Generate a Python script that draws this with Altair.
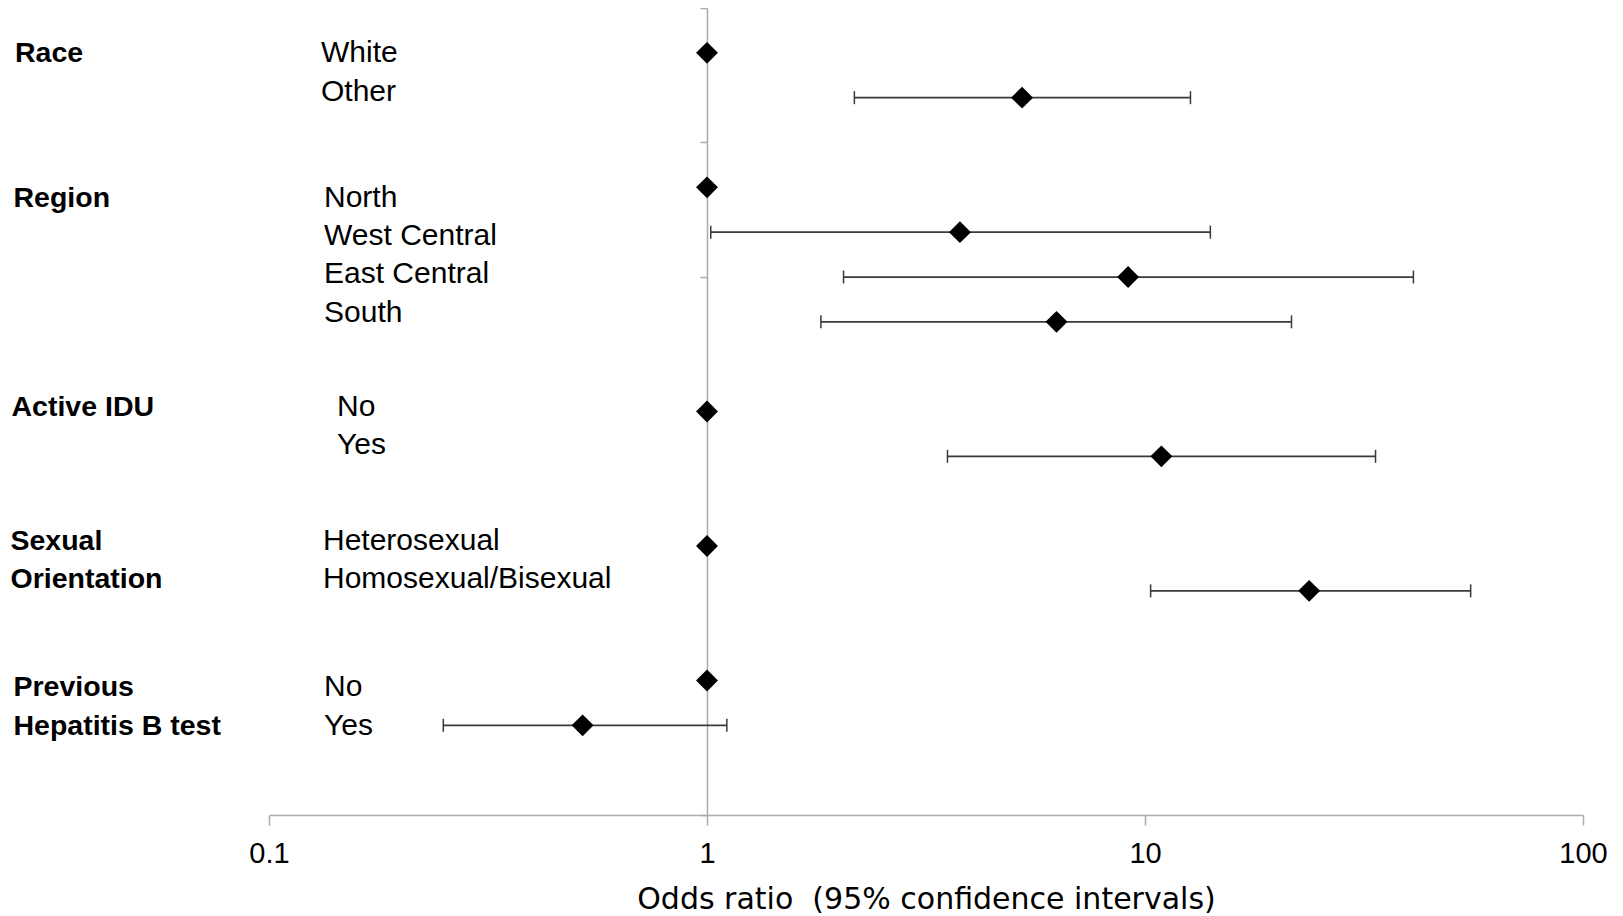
import math
import altair as alt
import pandas as pd

# ---------------- data ----------------
group_lines = [["Race"], ["Region"], ["Active IDU"], ["Sexual", "Orientation"],
               ["Previous", "Hepatitis B test"]]
levels = [["White", "Other"],
          ["North", "West Central", "East Central", "South"],
          ["No", "Yes"],
          ["Heterosexual", "Homosexual/Bisexual"],
          ["No", "Yes"]]
odds = [[1, 5.24], [1, 3.78, 9.15, 6.28], [1, 10.9], [1, 23.7], [1, 0.52]]
ci_low = [[None, 2.17], [None, 1.02, 2.05, 1.82], [None, 3.54], [None, 10.3], [None, 0.25]]
ci_high = [[None, 12.7], [None, 14.1, 41.0, 21.6], [None, 33.6], [None, 55.4], [None, 1.11]]
x_ticks = [0.1, 1, 10, 100]
y_ticks = [0, 3, 6, 9, 12, 15, 18]
x_title = "Odds ratio \u00a0(95% confidence intervals)"

# ---------------- layout / style ----------------
PLOT_W, PLOT_H = 1314, 807
PAD_L, PAD_T, PAD_R, PAD_B = 261, 0, 26, 99
X_MIN, X_MAX = 0.1, 100
Y_MAX = 18
UNIT = PLOT_H / Y_MAX
LINE_PX = 38.4
baseline_nudge = [9.6, 19.2, 4.5, 3.5, 15.6]     # text-box offsets (px)
group_x_page = [15, 13.5, 11.5, 10.5, 13.5]
level_x_page = [321, 324, 337, 323, 324]
PLOT_LEFT_PAGE = 8 + PAD_L
GREY = "#ababab"
BAR = "#3a3a3a"
FONT = "Liberation Sans"

# ---------------- tables ----------------
rows = []
k = 0
for g, lv in enumerate(levels):
    for j, name in enumerate(lv):
        rows.append(dict(group=g, level=name, pos=17 - (k + g),
                         odds=odds[g][j], lo=ci_low[g][j], hi=ci_high[g][j]))
        k += 1
df = pd.DataFrame(rows)

lab = []
for g in range(len(levels)):
    first = df[df.group == g].pos.max()
    for i, t in enumerate(group_lines[g]):
        lab.append(dict(group=g, kind="group", text=t,
                        ly=first - (baseline_nudge[g] + i * LINE_PX) / UNIT))
    for i, t in enumerate(levels[g]):
        lab.append(dict(group=g, kind="level", text=t,
                        ly=first - (baseline_nudge[g] + i * LINE_PX) / UNIT))
labels = pd.DataFrame(lab)

x_one_px = PLOT_W * (math.log10(1) - math.log10(X_MIN)) / (math.log10(X_MAX) - math.log10(X_MIN))

xscale = alt.Scale(type="log", domain=[X_MIN, X_MAX], nice=False)
yscale = alt.Scale(domain=[0, Y_MAX], nice=False, zero=False)

xaxis = alt.Axis(values=x_ticks, format="~g", title=x_title, grid=False,
                 domainColor=GREY, domainWidth=1.5, tickColor=GREY, tickWidth=1.5,
                 tickSize=10, labelFont=FONT, labelFontSize=29, labelColor="black",
                 labelPadding=14, labelFlush=False,
                 titleFont="DejaVu Sans", titleFontSize=30, titleFontWeight="normal",
                 titleColor="black", titleBaseline="alphabetic", titleY=93)
yaxis = alt.Axis(orient="left", offset=-x_one_px, values=y_ticks, labels=False,
                 title=None, grid=False, domainColor=GREY, domainWidth=1.5,
                 tickColor=GREY, tickWidth=1.5, tickSize=7)

base = alt.Chart(df)

bars = base.transform_filter("datum.lo != null").mark_rule(
    color=BAR, strokeWidth=1.75).encode(
    x=alt.X("lo:Q", scale=xscale, axis=xaxis),
    x2="hi:Q",
    y=alt.Y("pos:Q", scale=yscale, axis=yaxis))

cap_lo = base.transform_filter("datum.lo != null").mark_point(
    shape="M0,-1L0,1", filled=False, size=169, color=BAR, strokeWidth=1.5, opacity=1).encode(
    x=alt.X("lo:Q", scale=xscale, axis=xaxis),
    y=alt.Y("pos:Q", scale=yscale, axis=yaxis))

cap_hi = base.transform_filter("datum.lo != null").mark_point(
    shape="M0,-1L0,1", filled=False, size=169, color=BAR, strokeWidth=1.5, opacity=1).encode(
    x=alt.X("hi:Q", scale=xscale, axis=xaxis),
    y=alt.Y("pos:Q", scale=yscale, axis=yaxis))

diamonds = base.mark_point(shape="diamond", filled=True, size=480, color="black",
                           opacity=1).encode(
    x=alt.X("odds:Q", scale=xscale, axis=xaxis),
    y=alt.Y("pos:Q", scale=yscale, axis=yaxis))

layers = [bars, cap_lo, cap_hi, diamonds]
for g in range(len(levels)):
    layers.append(
        alt.Chart(labels).transform_filter(
            f"datum.group == {g} && datum.kind == 'group'").mark_text(
            align="left", baseline="alphabetic", font=FONT, fontSize=28.5,
            fontWeight="bold", color="black").encode(
            x=alt.value(group_x_page[g] - PLOT_LEFT_PAGE),
            y=alt.Y("ly:Q", scale=yscale, axis=yaxis),
            text="text:N"))
    layers.append(
        alt.Chart(labels).transform_filter(
            f"datum.group == {g} && datum.kind == 'level'").mark_text(
            align="left", baseline="alphabetic", font=FONT, fontSize=30,
            color="black").encode(
            x=alt.value(level_x_page[g] - PLOT_LEFT_PAGE),
            y=alt.Y("ly:Q", scale=yscale, axis=yaxis),
            text="text:N"))

chart = alt.layer(*layers).properties(
    width=PLOT_W, height=PLOT_H,
    padding={"left": PAD_L, "top": PAD_T, "right": PAD_R, "bottom": PAD_B},
    autosize=alt.AutoSizeParams(type="none"),
    background="white",
).configure_view(stroke=None)

chart.save("out.html", embed_options={"renderer": "svg", "actions": False})
